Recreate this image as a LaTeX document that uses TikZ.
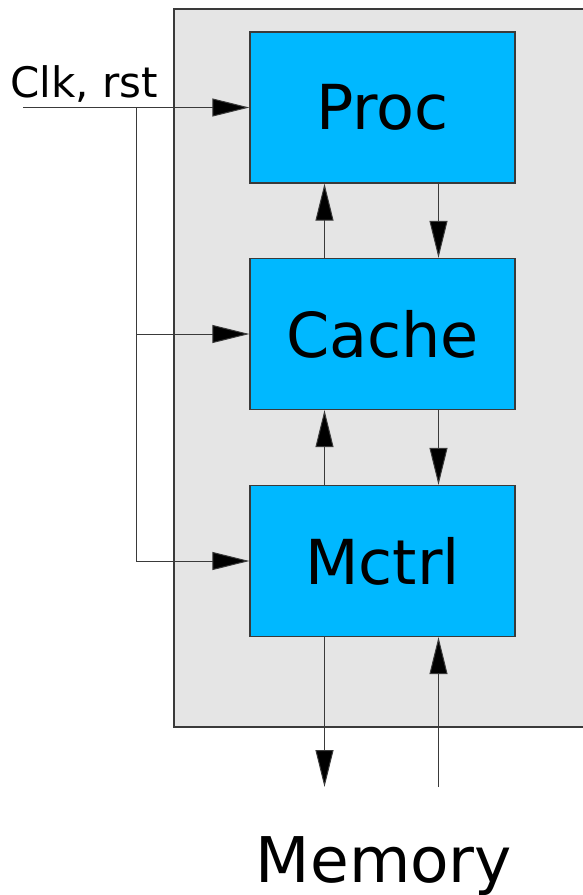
\documentclass[tikz,border=0pt]{standalone}
\usepackage{fontspec}
\setmainfont{DejaVu Sans}
\usetikzlibrary{arrows.meta}
\definecolor{boxblue}{HTML}{00B8FF}
\definecolor{panelgray}{HTML}{E5E5E5}
\definecolor{linegray}{HTML}{3A3A3A}
\tikzset{
  blk/.style={draw=linegray, line width=1.3pt, fill=boxblue, minimum width=265pt, minimum height=151pt, inner sep=0pt, font=\fontsize{62}{74}\selectfont},
  arr/.style={draw=linegray, line width=1pt, -{Triangle[length=37pt,width=18pt,fill=black]}},
  wire/.style={draw=linegray, line width=1pt}
}
\begin{document}
\begin{tikzpicture}[x=1pt,y=-1pt]
\useasboundingbox (0,0) rectangle (583,895);
\clip (0,0) rectangle (583,895);
\draw[draw=linegray, line width=1.3pt, fill=panelgray] (174,9) rectangle (620,727);
\node[blk] (proc) at (382.5,107.5) {Proc};
\node[blk] (cache) at (382.5,334) {Cache};
\node[blk] (mctrl) at (382.5,561) {Mctrl};
\node[font=\fontsize{42}{50}\selectfont] (clk) at (84,84) {Clk, rst};
\node[font=\fontsize{63}{76}\selectfont] (mem) at (384,866) {Memory};
\coordinate (in) at (23,107.5);
\coordinate (j1) at (136,107.5);
\coordinate (j2) at (136,334);
\coordinate (j3) at (136,561);
\coordinate (m1) at (324.5,787);
\coordinate (m2) at (438.5,787);
\draw[arr] (in) -- (proc.west);
\draw[wire] (j1) -- (j3);
\draw[arr] (j2) -- (cache.west);
\draw[arr] (j3) -- (mctrl.west);
\draw[arr] ([xshift=-58pt]cache.north) -- ([xshift=-58pt]proc.south);
\draw[arr] ([xshift=56pt]proc.south) -- ([xshift=56pt]cache.north);
\draw[arr] ([xshift=-58pt]mctrl.north) -- ([xshift=-58pt]cache.south);
\draw[arr] ([xshift=56pt]cache.south) -- ([xshift=56pt]mctrl.north);
\draw[arr] ([xshift=-58pt]mctrl.south) -- (m1);
\draw[arr] (m2) -- ([xshift=56pt]mctrl.south);
\end{tikzpicture}
\end{document}
